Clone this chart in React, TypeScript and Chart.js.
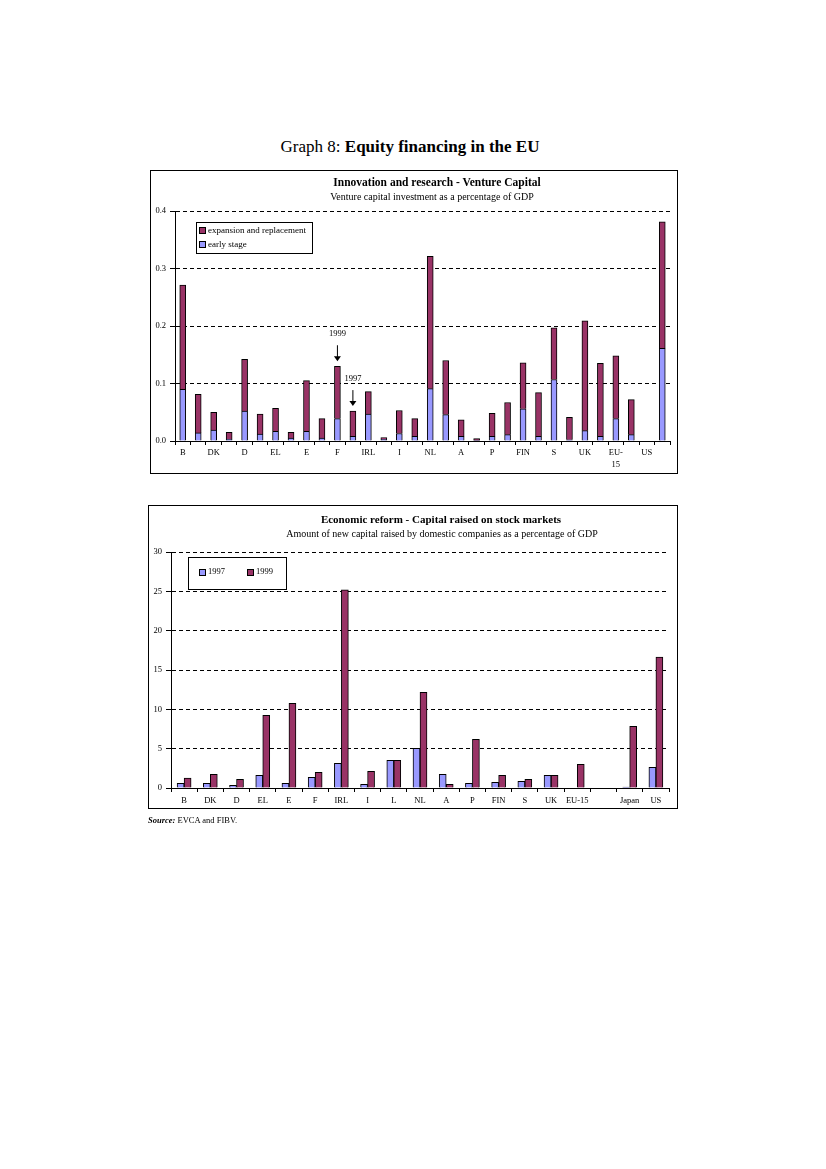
import React, { useEffect, useRef } from "react";
import { Chart, registerables } from "chart.js";
Chart.register(...registerables);

// ---------- Chart 1: Venture capital (pairs per country: 1999, 1997) ----------
const vcLabels: (string | string[])[] = [
  "B", "", "DK", "", "D", "", "EL", "", "E", "", "F", "", "IRL", "", "I", "",
  "NL", "", "A", "", "P", "", "FIN", "", "S", "", "UK", "", ["EU-", "15"], "", "US", "",
];
const vcEarlyStage: (number | null)[] = [
  0.090, 0.014, 0.019, 0.003, 0.052, 0.012, 0.017, 0.005, 0.017, 0.005, 0.039, 0.008,
  0.047, 0.003, 0.013, 0.008, 0.091, 0.046, 0.008, 0.001, 0.008, 0.011, 0.056, 0.008,
  0.107, 0.002, 0.018, 0.008, 0.039, 0.011, null, 0.161,
];
const vcExpansion: (number | null)[] = [
  0.181, 0.067, 0.031, 0.012, 0.090, 0.035, 0.040, 0.010, 0.088, 0.034, 0.091, 0.044,
  0.039, 0.003, 0.040, 0.031, 0.230, 0.094, 0.029, 0.003, 0.040, 0.056, 0.080, 0.076,
  0.090, 0.039, 0.191, 0.127, 0.109, 0.061, null, 0.220,
];
const vcTicks = [0, 0.1, 0.2, 0.3, 0.4];
const vcAnnotations = [
  { text: "1999", index: 10 },
  { text: "1997", index: 11 },
];

// ---------- Chart 2: Capital raised on stock markets ----------
const smLabels = [
  "B", "DK", "D", "EL", "E", "F", "IRL", "I", "L", "NL", "A", "P", "FIN", "S", "UK",
  "EU-15", "", "Japan", "US",
];
const sm1997: (number | null)[] = [
  0.59, 0.59, 0.34, 1.61, 0.59, 1.36, 3.14, 0.47, 3.52, 5.04, 1.74, 0.59, 0.72, 0.85, 1.61,
  null, null, 0.13, 2.63,
];
const sm1999: (number | null)[] = [
  1.27, 1.74, 1.10, 9.24, 10.76, 1.99, 25.2, 2.12, 3.52, 12.16, 0.47, 6.19, 1.61, 1.10, 1.61,
  3.0, null, 7.84, 16.65,
];
const smTicks = [0, 5, 10, 15, 20, 25, 30];

const BLUE = "#9999FF";
const MAROON = "#993366";
const SERIF = "'Liberation Serif', 'DejaVu Serif', serif";

const arrowPlugin = {
  id: "arrows",
  afterDatasetsDraw(chart: any) {
    const opts = chart.options.plugins.arrows;
    if (!opts || !opts.items) return;
    const ctx = chart.ctx;
    const meta = chart.getDatasetMeta(1);
    ctx.save();
    ctx.fillStyle = "#000";
    ctx.strokeStyle = "#000";
    ctx.font = `8.5px ${SERIF}`;
    ctx.textAlign = "center";
    ctx.textBaseline = "middle";
    for (const it of opts.items) {
      const el = meta.data[it.index];
      if (!el) continue;
      const x = el.x;
      const tip = el.y - 5;
      const start = tip - 16;
      ctx.lineWidth = 1;
      ctx.beginPath();
      ctx.moveTo(x, start);
      ctx.lineTo(x, tip - 3);
      ctx.stroke();
      ctx.beginPath();
      ctx.moveTo(x - 3.5, tip - 5);
      ctx.lineTo(x + 3.5, tip - 5);
      ctx.lineTo(x, tip);
      ctx.closePath();
      ctx.fill();
      ctx.fillText(it.text, x, start - 11);
    }
    ctx.restore();
  },
};

function useChart(ref: React.RefObject<HTMLCanvasElement>, makeConfig: () => any) {
  useEffect(() => {
    if (!ref.current) return;
    const chart = new Chart(ref.current, makeConfig());
    return () => chart.destroy();
  }, []);
}

function VentureChart() {
  const ref = useRef<HTMLCanvasElement>(null);
  useChart(ref, () => ({
    type: "bar",
    data: {
      labels: vcLabels,
      datasets: [
        {
          label: "early stage",
          data: vcEarlyStage,
          backgroundColor: BLUE,
          borderColor: "#000",
          borderWidth: 1,
          barThickness: 6,
        },
        {
          label: "expansion and replacement",
          data: vcExpansion,
          backgroundColor: MAROON,
          borderColor: "#000",
          borderWidth: 1,
          barThickness: 6,
        },
      ],
    },
    plugins: [arrowPlugin],
    options: {
      responsive: false,
      animation: false,
      layout: { padding: { left: 0, right: 8, top: 41, bottom: 0 } },
      plugins: {
        legend: { display: false },
        tooltip: { enabled: false },
        arrows: { items: vcAnnotations },
      },
      scales: {
        x: {
          stacked: true,
          grid: { display: true, drawOnChartArea: false, drawTicks: true, tickLength: 4, color: "#000", offset: true },
          border: { display: true, color: "#000", width: 1 },
          ticks: {
            autoSkip: false,
            maxRotation: 0,
            color: "#000",
            padding: 1,
            font: { family: SERIF, size: 8.5, lineHeight: 1.5 },
          },
          afterFit: (s: any) => { s.height = 33; },
        },
        y: {
          stacked: true,
          min: 0,
          max: 0.4,
          afterBuildTicks: (s: any) => { s.ticks = vcTicks.map((v) => ({ value: v })); },
          grid: { color: "#000", lineWidth: 1, tickLength: 5, drawTicks: true },
          border: { display: true, color: "#000", width: 1, dash: [4, 3] },
          ticks: {
            color: "#000",
            padding: 4,
            font: { family: SERIF, size: 8.5 },
            callback: (v: any) => Number(v).toFixed(1),
          },
          afterFit: (s: any) => { s.width = 25; },
        },
      },
    },
  }));
  return <canvas ref={ref} width={528} height={304} style={{ position: "absolute", left: 150, top: 170 }} />;
}

function StockChart() {
  const ref = useRef<HTMLCanvasElement>(null);
  useChart(ref, () => ({
    type: "bar",
    data: {
      labels: smLabels,
      datasets: [
        { label: "1997", data: sm1997, backgroundColor: BLUE, borderColor: "#000", borderWidth: 1, barThickness: 7 },
        { label: "1999", data: sm1999, backgroundColor: MAROON, borderColor: "#000", borderWidth: 1, barThickness: 7 },
      ],
    },
    options: {
      responsive: false,
      animation: false,
      layout: { padding: { left: 0, right: 9, top: 47, bottom: 0 } },
      plugins: { legend: { display: false }, tooltip: { enabled: false } },
      scales: {
        x: {
          grid: { display: true, drawOnChartArea: false, drawTicks: true, tickLength: 4, color: "#000", offset: true },
          border: { display: true, color: "#000", width: 1 },
          ticks: {
            autoSkip: false,
            maxRotation: 0,
            color: "#000",
            padding: 2,
            font: { family: SERIF, size: 8.5, lineHeight: 1.5 },
          },
          afterFit: (s: any) => { s.height = 21; },
        },
        y: {
          min: 0,
          max: 30,
          afterBuildTicks: (s: any) => { s.ticks = smTicks.map((v) => ({ value: v })); },
          grid: { color: "#000", lineWidth: 1, tickLength: 5, drawTicks: true },
          border: { display: true, color: "#000", width: 1, dash: [4, 3] },
          ticks: { color: "#000", padding: 4, font: { family: SERIF, size: 8.5 } },
          afterFit: (s: any) => { s.width = 23; },
        },
      },
    },
  }));
  return <canvas ref={ref} width={530} height={304} style={{ position: "absolute", left: 148, top: 505 }} />;
}

const abs = (o: React.CSSProperties): React.CSSProperties => ({ position: "absolute", whiteSpace: "nowrap", ...o });
const centered = (x: number, y: number, o: React.CSSProperties): React.CSSProperties =>
  abs({ left: x, top: y, transform: "translate(-50%, -50%)", ...o });

const Swatch = ({ color }: { color: string }) => (
  <span style={{ display: "inline-block", width: 5, height: 5, background: color, border: "1px solid #000", marginRight: 2, verticalAlign: "middle" }} />
);

export default function App() {
  return (
    <div style={{ position: "absolute", left: 0, top: 0, width: 826, height: 1169, background: "#fff", fontFamily: SERIF, color: "#000" }}>
      <div style={centered(410, 147, { fontSize: 17 })}>
        Graph 8: <b>Equity financing in the EU</b>
      </div>

      {/* Top chart */}
      <VentureChart />
      <div style={abs({ left: 150, top: 170, width: 526, height: 302, border: "1px solid #000", pointerEvents: "none" })} />
      <div style={centered(437, 182, { fontSize: 11.5, fontWeight: "bold" })}>Innovation and research - Venture Capital</div>
      <div style={centered(432, 196, { fontSize: 10 })}>Venture capital investment as a percentage of GDP</div>
      <div style={abs({ left: 196, top: 222, width: 115, height: 30, border: "1px solid #000", background: "#fff", fontSize: 9 })}>
        <div style={abs({ left: 2, top: 2 })}><Swatch color={MAROON} />expansion and replacement</div>
        <div style={abs({ left: 2, top: 16 })}><Swatch color={BLUE} />early stage</div>
      </div>

      {/* Bottom chart */}
      <StockChart />
      <div style={abs({ left: 148, top: 505, width: 528, height: 302, border: "1px solid #000", pointerEvents: "none" })} />
      <div style={centered(441, 519, { fontSize: 11, fontWeight: "bold" })}>Economic reform - Capital raised on stock markets</div>
      <div style={centered(442, 533, { fontSize: 10 })}>Amount of new capital raised by domestic companies as a percentage of GDP</div>
      <div style={abs({ left: 188, top: 557, width: 97, height: 31, border: "1px solid #000", background: "#fff", fontSize: 8.5 })}>
        <div style={abs({ left: 10, top: 8 })}><Swatch color={BLUE} />1997</div>
        <div style={abs({ left: 58, top: 8 })}><Swatch color={MAROON} />1999</div>
      </div>

      <div style={abs({ left: 148, top: 815, fontSize: 8.5 })}>
        <b><i>Source:</i></b> EVCA and FIBV.
      </div>
    </div>
  );
}
